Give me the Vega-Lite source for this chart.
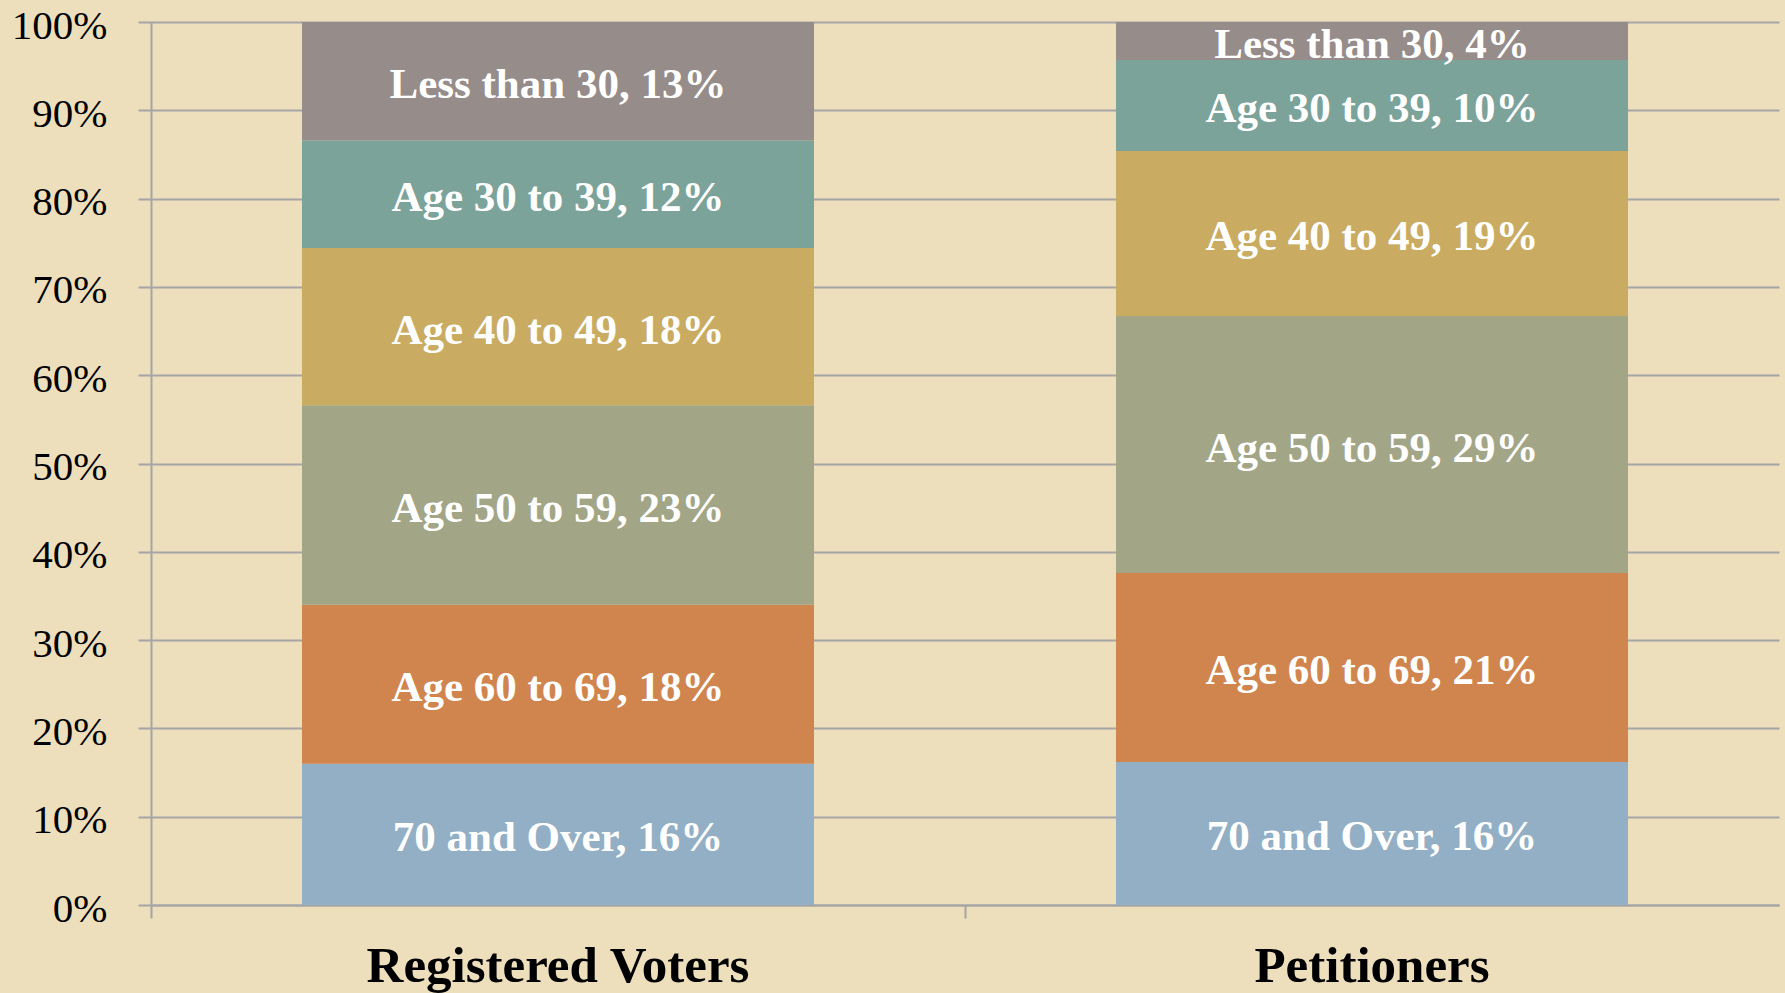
{
  "$schema": "https://vega.github.io/schema/vega-lite/v6.json",
  "width": 1628,
  "height": 883,
  "autosize": {"type": "none"},
  "padding": {"left": 151, "top": 22, "right": 6, "bottom": 88},
  "background": "#EDDEBC",
  "data": {
    "values": [
      {"group": "Registered Voters", "age": "70 and Over", "ord": 1, "pct": 16.0},
      {"group": "Registered Voters", "age": "Age 60 to 69", "ord": 2, "pct": 18.0},
      {"group": "Registered Voters", "age": "Age 50 to 59", "ord": 3, "pct": 22.6},
      {"group": "Registered Voters", "age": "Age 40 to 49", "ord": 4, "pct": 17.8},
      {"group": "Registered Voters", "age": "Age 30 to 39", "ord": 5, "pct": 12.2},
      {"group": "Registered Voters", "age": "Less than 30", "ord": 6, "pct": 13.4},
      {"group": "Petitioners", "age": "70 and Over", "ord": 1, "pct": 16.2},
      {"group": "Petitioners", "age": "Age 60 to 69", "ord": 2, "pct": 21.4},
      {"group": "Petitioners", "age": "Age 50 to 59", "ord": 3, "pct": 29.1},
      {"group": "Petitioners", "age": "Age 40 to 49", "ord": 4, "pct": 18.7},
      {"group": "Petitioners", "age": "Age 30 to 39", "ord": 5, "pct": 10.3},
      {"group": "Petitioners", "age": "Less than 30", "ord": 6, "pct": 4.3}
    ]
  },
  "transform": [
    {"stack": "pct", "groupby": ["group"], "sort": [{"field": "ord", "order": "ascending"}], "as": ["y0", "y1"]},
    {"calculate": "(datum.y0 + datum.y1) / 2", "as": "ymid"},
    {"calculate": "datum.age + ', ' + round(datum.pct) + '%'", "as": "label"}
  ],
  "encoding": {
    "x": {
      "field": "group",
      "type": "nominal",
      "sort": ["Registered Voters", "Petitioners"],
      "scale": {"paddingInner": 0, "paddingOuter": 0},
      "axis": {
        "title": null,
        "labelAngle": 0,
        "labelLimit": 0,
        "labelFont": "Liberation Serif",
        "labelFontWeight": "bold",
        "labelFontSize": 51,
        "labelColor": "#000000",
        "labelBaseline": "alphabetic",
        "labelPadding": 63,
        "tickSize": 13,
        "tickColor": "#A5A5A5",
        "tickWidth": 2,
        "bandPosition": 0,
        "domainColor": "#A5A5A5",
        "domainWidth": 2,
        "grid": false
      }
    }
  },
  "layer": [
    {
      "mark": {"type": "bar", "width": {"band": 0.629}},
      "encoding": {
        "y": {
          "field": "y0",
          "type": "quantitative",
          "scale": {"domain": [0, 100], "nice": false},
          "axis": {
            "title": null,
            "values": [0, 10, 20, 30, 40, 50, 60, 70, 80, 90, 100],
            "labelExpr": "datum.value + '%'",
            "labelFont": "Liberation Serif",
            "labelFontSize": 41,
            "labelColor": "#000000",
            "labelPadding": 31,
            "labelOffset": 4,
            "tickSize": 13,
            "tickColor": "#A5A5A5",
            "tickWidth": 2,
            "domainColor": "#A5A5A5",
            "domainWidth": 2,
            "grid": true,
            "gridColor": "#A5A5A5",
            "gridWidth": 2
          }
        },
        "y2": {"field": "y1"},
        "color": {
          "field": "age",
          "type": "nominal",
          "legend": null,
          "scale": {
            "domain": ["70 and Over", "Age 60 to 69", "Age 50 to 59", "Age 40 to 49", "Age 30 to 39", "Less than 30"],
            "range": ["#92AFC5", "#D0854E", "#A2A686", "#C9AC62", "#7BA39A", "#968C8A"]
          }
        }
      }
    },
    {
      "mark": {"type": "text", "font": "Liberation Serif", "fontWeight": "bold", "fontSize": 43, "color": "#FFFFFF", "align": "center", "baseline": "middle", "dy": 4},
      "encoding": {
        "y": {"field": "ymid", "type": "quantitative"},
        "text": {"field": "label", "type": "nominal"}
      }
    }
  ],
  "config": {
    "view": {"stroke": null}
  }
}
